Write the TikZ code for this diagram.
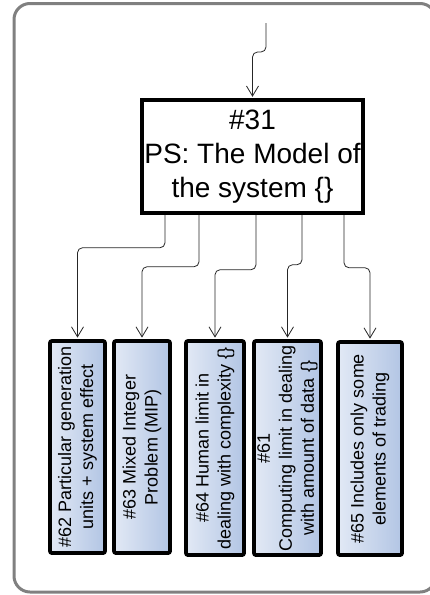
\documentclass[tikz,border=0pt]{standalone}
\usepackage{fontspec}
\setmainfont{Liberation Sans}
\usepackage{xcolor}
\usepackage{tikz}
\usetikzlibrary{arrows.meta}

\definecolor{causeLight}{HTML}{E2E9F5}
\definecolor{causeDark}{HTML}{B2C5E4}

\tikzset{
	psbox/.style={draw=black, line width=3.5pt, fill=white, align=center, inner sep=0pt,
		minimum width=221pt, minimum height=113pt, font=\fontsize{28}{34}\selectfont},
	causebox/.style={draw=black, line width=3.8pt, rounded corners=2pt, rotate=90, align=center,
		inner sep=0pt, minimum width=212pt, left color=causeLight, right color=causeDark,
		font=\fontsize{18}{22}\selectfont},
	link/.style={draw=black!85, line width=0.8pt, rounded corners=5pt,
		-{Straight Barb[length=10pt,width=12pt]}, shorten >=1.5pt},
	frame/.style={draw=black!50, line width=3pt, rounded corners=16pt}
}

\begin{document}
\begin{tikzpicture}[x=1pt, y=-1pt]
	\useasboundingbox (0,0) rectangle (429,595);
	\draw[frame] (14,3.5) rectangle (436,592);
	% Boxes:
	\node[psbox] (ps31) at (252.5,156.5) {\#31\\PS: The Model of\\the system \{\}};
	\node[causebox, minimum height=55pt] (c62) at (77.5,447) {\#62 Particular generation\\units + system effect};
	\node[causebox, minimum height=56pt] (c63) at (142,447) {\#63 Mixed Integer\\Problem (MIP)};
	\node[causebox, minimum height=58pt, minimum width=214pt] (c64) at (215,448) {\#64 Human limit in\\dealing with complexity \{\}};
	\node[causebox, minimum height=67pt, minimum width=214pt] (c61) at (287.5,448) {\#61\\Computing limit in dealing\\with amount of data \{\}};
	\node[causebox, minimum height=64pt, minimum width=213pt] (c65) at (370,448.5) {\#65 Includes only some\\elements of trading};
	% Links:
	\coordinate (in) at (266,23);
	\draw[link] (in) -- ++(0,29) -| (ps31.north);
	\draw[link] ([xshift=-87.5pt]ps31.south) -- ++(0,33) -| (c62.east);
	\draw[link] ([xshift=-53.5pt]ps31.south) -- ++(0,52) -| (c63.east);
	\draw[link] ([xshift=3.5pt]ps31.south) -- ++(0,55) -| (c64.east);
	\draw[link] ([xshift=49.5pt]ps31.south) -- ++(0,50) -| (c61.east);
	\draw[link] ([xshift=91.5pt]ps31.south) -- ++(0,53) -| (c65.east);
\end{tikzpicture}
\end{document}
